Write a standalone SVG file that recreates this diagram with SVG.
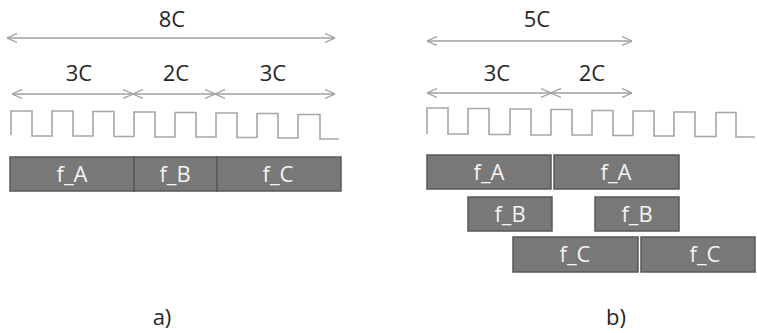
<svg xmlns="http://www.w3.org/2000/svg" width="757" height="333" viewBox="0 0 757 333">
<defs>
<marker id="ah" viewBox="0 0 10 10" refX="10" refY="5" markerWidth="10" markerHeight="10" markerUnits="userSpaceOnUse" orient="auto-start-reverse">
<path d="M0,0.5 L10,5 L0,9.5" fill="none" stroke="#a0a0a0" stroke-width="1.2"/>
</marker>
</defs>
<style>
.dim{stroke:#a0a0a0;stroke-width:1.3;fill:none;marker-start:url(#ah);marker-end:url(#ah)}
.wave{stroke:#a6a6a6;stroke-width:1.6;fill:none}
.lbl{font-family:"Open Sans","Liberation Sans",sans-serif;font-size:22px;fill:#262626;text-anchor:middle}
.box rect{fill:#787878;stroke:#585858;stroke-width:1.5}
.box text{font-family:"Open Sans","Liberation Sans",sans-serif;font-size:22px;fill:#f4f4f4;text-anchor:middle}
</style>
<g id="connectors">
<line class="dim" x1="7" y1="38" x2="335" y2="38"/>
<line class="dim" x1="12" y1="94" x2="133" y2="94"/>
<line class="dim" x1="133" y1="94" x2="215" y2="94"/>
<line class="dim" x1="215" y1="94" x2="335" y2="94"/>
<line class="dim" x1="427" y1="41" x2="632" y2="41"/>
<line class="dim" x1="427" y1="93" x2="551" y2="93"/>
<line class="dim" x1="551" y1="93" x2="632" y2="93"/>
</g>
<g id="labels">
<text class="lbl" x="172" y="27">8C</text>
<text class="lbl" x="79" y="81">3C</text>
<text class="lbl" x="176" y="81">2C</text>
<text class="lbl" x="273" y="81">3C</text>
<text class="lbl" x="537" y="27">5C</text>
<text class="lbl" x="497" y="81">3C</text>
<text class="lbl" x="592" y="81">2C</text>
<text class="lbl" x="162" y="325">a)</text>
<text class="lbl" x="616" y="325">b)</text>
</g>
<g id="clock-a">
<path class="wave" d="M11,135 V111 H32 V136 H52 V111 H73 V136 H93 V111.5 H114 V136.5 H134 V112 H155 V137 H175 V112.5 H196 V137 H216 V113 H237 V137.5 H257 V113.5 H278 V138 H298 V114.5 H320 V139 H339"/>
</g>
<g id="clock-b">
<path class="wave" d="M427,134 V108 H448 V134 H468 V108.5 H489 V134.5 H510 V109 H531 V135 H551 V109.5 H572 V135 H592 V110.5 H613 V135.5 H633 V111 H654 V136 H674 V112 H695 V136.5 H716 V112.5 H736 V137 H755"/>
</g>
<g id="node-a-fA" class="box"><rect x="10" y="157" width="124" height="34"/><text x="72" y="182">f_A</text></g>
<g id="node-a-fB" class="box"><rect x="134" y="157" width="83" height="34"/><text x="175" y="182">f_B</text></g>
<g id="node-a-fC" class="box"><rect x="217" y="157" width="124" height="34"/><text x="278" y="182">f_C</text></g>
<g id="node-b-fA1" class="box"><rect x="427" y="155" width="124" height="34"/><text x="489" y="180">f_A</text></g>
<g id="node-b-fA2" class="box"><rect x="554" y="155" width="125" height="34"/><text x="616" y="180">f_A</text></g>
<g id="node-b-fB1" class="box"><rect x="468" y="197" width="84" height="34"/><text x="510" y="222">f_B</text></g>
<g id="node-b-fB2" class="box"><rect x="595" y="197" width="84" height="34"/><text x="637" y="222">f_B</text></g>
<g id="node-b-fC1" class="box"><rect x="513" y="237" width="125" height="35"/><text x="575" y="262">f_C</text></g>
<g id="node-b-fC2" class="box"><rect x="641" y="237" width="114" height="35"/><text x="705" y="262">f_C</text></g>
</svg>
